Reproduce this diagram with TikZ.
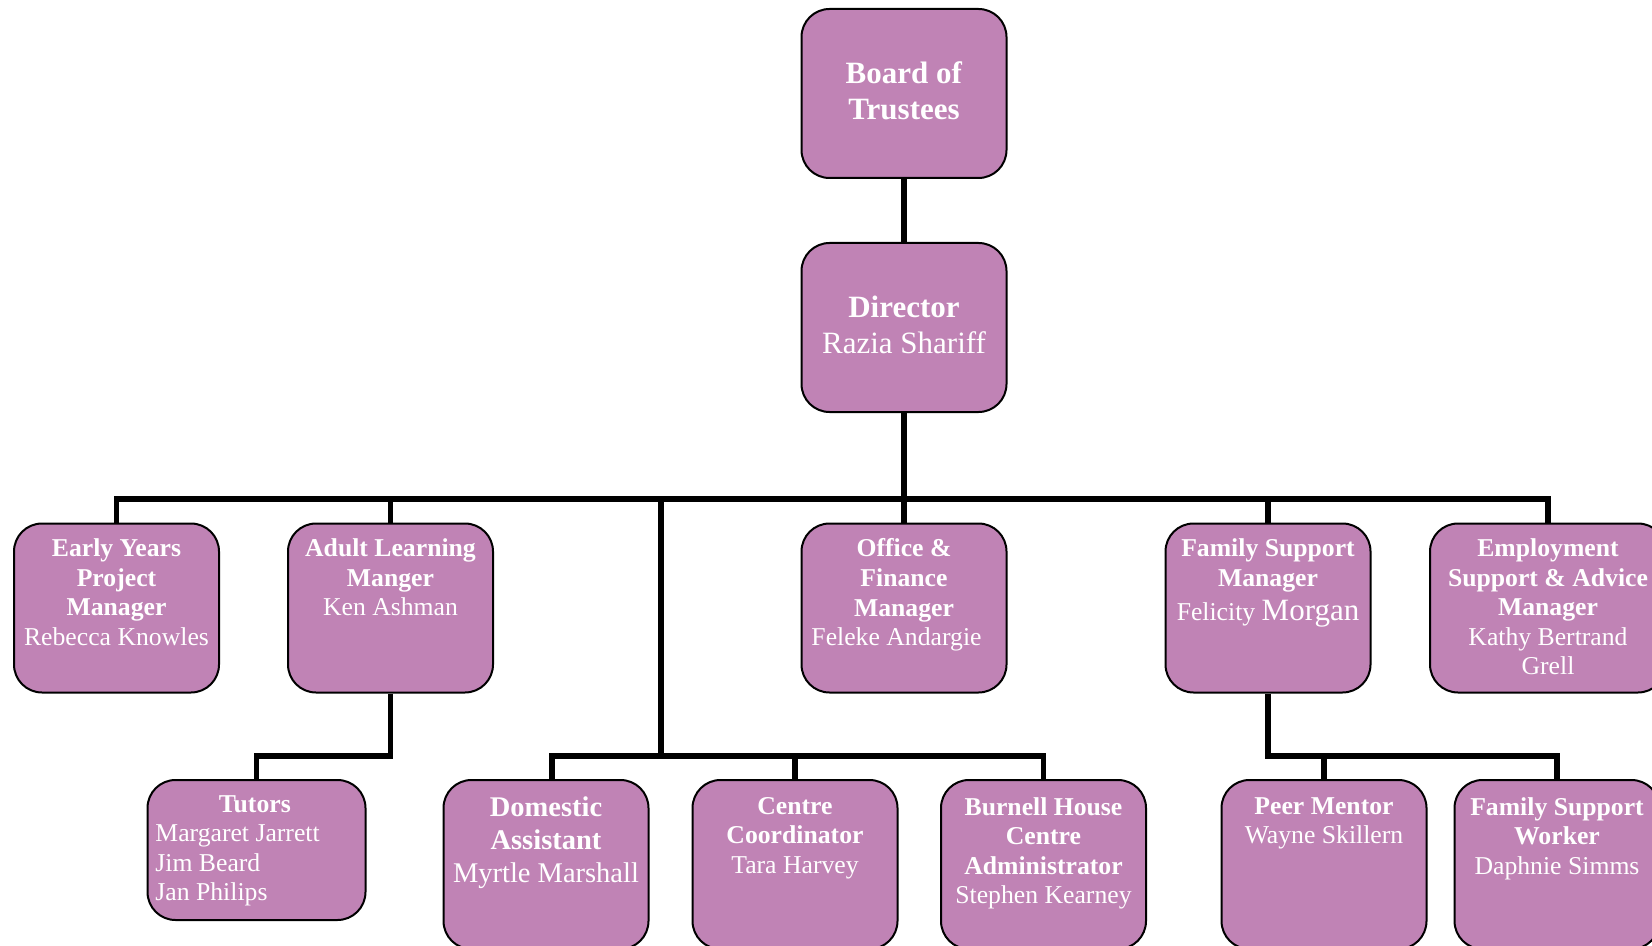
\documentclass[tikz,border=0pt]{standalone}
\usepackage{fontspec}
\setmainfont{Liberation Serif}
\usepackage{xcolor}
\usetikzlibrary{positioning}
\definecolor{postpink}{RGB}{192,131,181}
\newcommand{\rolefont}{\fontsize{12.85}{14.75}\selectfont}
\newcommand{\headfont}{\fontsize{15.5}{18}\selectfont}
\newcommand{\midfont}{\fontsize{14.25}{16.5}\selectfont}

\begin{document}
\begin{tikzpicture}[x=0.5pt,y=-0.5pt,
  post/.style={draw=black,line width=1pt,fill=postpink,rounded corners=14pt,
    minimum width=102.5pt,minimum height=84.5pt,inner sep=0pt},
  postlabel/.style={text=white,align=center,anchor=north,inner sep=0pt,yshift=-8pt,font=\rolefont},
  headlabel/.style={text=white,align=center,anchor=center,inner sep=0pt,yshift=1.5pt,font=\headfont},
  wire/.style={line width=2.6pt}]
\useasboundingbox (0,0) rectangle (1652,946);
\clip (0,0) rectangle (1652,946);

\coordinate (bus) at (904,499);
\coordinate (split) at (661,499);
\coordinate (low) at (0,756);

\node[post,label={[headlabel]center:{\textbf{Board of}\\\textbf{Trustees}}}] (board) at (904,93.5) {};
\node[post,label={[headlabel]center:{\textbf{Director}\\Razia Shariff}}] (director) at (904,327.5) {};

\node[post,label={[postlabel]north:{\textbf{Early Years}\\\textbf{Project}\\\textbf{Manager}\\Rebecca Knowles}}] (early) at (116.5,608) {};
\node[post,label={[postlabel]north:{\textbf{Adult Learning}\\\textbf{Manger}\\Ken Ashman}}] (adult) at (390.5,608) {};
\node[post,label={[postlabel]north:{\textbf{Office \&}\\\textbf{Finance}\\\textbf{Manager}\\Feleke Andargie\hspace*{7.5pt}}}] (office) at (904,608) {};
\node[post,label={[postlabel]north:{\textbf{Family Support}\\\textbf{Manager}\\[2.5pt]Felicity {\headfont Morgan}}}] (fsm) at (1268,608) {};
\node[post,minimum width=118pt,label={[postlabel]north:{\textbf{Employment}\\\textbf{Support \& Advice}\\\textbf{Manager}\\Kathy Bertrand\\Grell}}] (employ) at (1548,608) {};

\node[post,minimum width=109pt,minimum height=70pt,label={[postlabel,anchor=north west,align=left,xshift=4.25pt]north west:{\hspace*{31.75pt}\textbf{Tutors}\\Margaret Jarrett\\Jim Beard\\Jan Philips}}] (tutors) at (256.5,850) {};
\node[post,label={[postlabel,font=\midfont,yshift=-0.5pt]north:{\textbf{Domestic}\\\textbf{Assistant}\\Myrtle Marshall}}] (domestic) at (546,864.5) {};
\node[post,label={[postlabel,yshift=-1pt]north:{\textbf{Centre}\\\textbf{Coordinator}\\Tara Harvey}}] (centre) at (795,864.5) {};
\node[post,label={[postlabel,yshift=-1pt]north:{\textbf{Burnell House}\\\textbf{Centre}\\\textbf{Administrator}\\Stephen Kearney}}] (burnell) at (1043.5,864.5) {};
\node[post,label={[postlabel,yshift=-1pt]north:{\textbf{Peer Mentor}\\Wayne Skillern}}] (peer) at (1324,864.5) {};
\node[post,label={[postlabel,yshift=-1pt]north:{\textbf{Family Support}\\\textbf{Worker}\\Daphnie Simms}}] (fsw) at (1557,864.5) {};

\draw[wire] (board) -- (director);
\draw[wire] (director) -- (office);
\draw[wire] (early.north) |- (bus) -| (employ.north);
\draw[wire] (adult.north) -- (adult.north |- bus);
\draw[wire] (fsm.north) -- (fsm.north |- bus);
\draw[wire] (split) -- (split |- low) -| (burnell.north);
\draw[wire] ([xshift=3pt]domestic.north) |- (split |- low);
\draw[wire] (centre.north) -- (centre.north |- low);
\draw[wire] (adult.south) -- (adult.south |- low) -| (tutors.north);
\draw[wire] (fsm.south) -- (fsm.south |- low) -| (fsw.north);
\draw[wire] (peer.north) -- (peer.north |- low);
\end{tikzpicture}
\end{document}
